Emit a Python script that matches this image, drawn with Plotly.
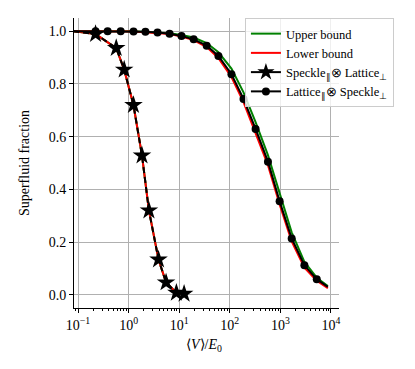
import plotly.graph_objects as go

# Speckle_par x Lattice_perp (stars)
star_x = [0.222, 0.569, 0.817, 1.247, 1.84, 2.52, 3.9, 5.5, 8.8, 12.5]
star_y = [0.989, 0.936, 0.854, 0.720, 0.528, 0.320, 0.134, 0.047, 0.008, 0.004]

# Lattice_par x Speckle_perp (circles)
circ_x = [0.222, 0.385, 0.697, 1.25, 2.15, 3.73, 6.46, 11.1, 19.3, 35.0,
          59.7, 108, 187, 324, 569, 968, 1676, 2990, 5250]
circ_y = [1.0, 1.0, 1.0, 0.999, 0.998, 0.995, 0.99, 0.982, 0.969, 0.945,
          0.906, 0.837, 0.743, 0.629, 0.505, 0.355, 0.214, 0.112, 0.059]

# curve ends (left edge / tail past last marker)
edge_x = 0.08
circ_tail_x = 8700
circ_tail_y = 0.03

# bounds for the lattice_par curve
bound_x = [0.08, 0.222, 1.25, 6.46, 11.1, 19.3, 35.0, 59.7, 108, 187, 324,
           569, 968, 1676, 2990, 5250, 8700]
upper_y = [1.0, 1.0, 1.0, 0.992, 0.986, 0.976, 0.955, 0.92, 0.858, 0.768,
           0.655, 0.53, 0.385, 0.237, 0.125, 0.065, 0.033]
lower_y = [1.0, 1.0, 0.999, 0.989, 0.98, 0.966, 0.94, 0.898, 0.826, 0.731,
           0.616, 0.492, 0.343, 0.203, 0.103, 0.053, 0.025]

tick_vals = [0.1, 1, 10, 100, 1000, 10000]
tick_text = ["10<sup>−1</sup>", "10<sup>0</sup>", "10<sup>1</sup>",
             "10<sup>2</sup>", "10<sup>3</sup>", "10<sup>4</sup>"]

GREEN = "#008000"
RED = "#ff0000"
FONT = "Liberation Serif"

fig = go.Figure()

# bounds - star curve (same as data)
sx = [edge_x] + star_x
sy = [1.0] + star_y
fig.add_trace(go.Scatter(x=sx, y=sy, mode="lines", line=dict(color=GREEN, width=2),
                         showlegend=False))
fig.add_trace(go.Scatter(x=sx, y=sy, mode="lines", line=dict(color=RED, width=2),
                         showlegend=False))

# bounds - circle curve
fig.add_trace(go.Scatter(x=bound_x, y=upper_y, mode="lines", name="Upper bound",
                         line=dict(color=GREEN, width=2)))
fig.add_trace(go.Scatter(x=bound_x, y=lower_y, mode="lines", name="Lower bound",
                         line=dict(color=RED, width=2)))

# black data curves
fig.add_trace(go.Scatter(x=sx, y=sy, mode="lines", showlegend=False,
                         line=dict(color="black", width=2, dash="6px,4px")))
fig.add_trace(go.Scatter(x=star_x, y=star_y, mode="markers", showlegend=False,
                         marker=dict(symbol="star", size=14, color="black")))
fig.add_trace(go.Scatter(x=[edge_x] + circ_x + [circ_tail_x],
                         y=[1.0] + circ_y + [circ_tail_y], mode="lines",
                         showlegend=False, line=dict(color="black", width=2)))
fig.add_trace(go.Scatter(x=circ_x, y=circ_y, mode="markers", showlegend=False,
                         marker=dict(symbol="circle", size=8, color="black")))

# legend entries
fig.add_trace(go.Scatter(x=[None], y=[None], mode="lines+markers",
                         name="Speckle<sub>∥</sub>⊗ Lattice<sub>⊥</sub>",
                         marker=dict(symbol="star", size=13, color="black"),
                         line=dict(color="black", width=2)))
fig.add_trace(go.Scatter(x=[None], y=[None], mode="lines+markers",
                         name="Lattice<sub>∥</sub>⊗ Speckle<sub>⊥</sub>",
                         marker=dict(symbol="circle", size=8, color="black"),
                         line=dict(color="black", width=2)))

fig.update_xaxes(type="log", range=[-1.08, 4.16], automargin=False,
                 tickvals=tick_vals, ticktext=tick_text,
                 showgrid=True, gridcolor="#b0b0b0", gridwidth=1,
                 showline=True, linecolor="black", linewidth=1,
                 ticks="outside", ticklen=4, tickcolor="black",
                 minor=dict(ticks="outside", ticklen=2, tickcolor="black",
                            dtick="D1", showgrid=False),
                 zeroline=False,
                 tickfont=dict(size=14, family=FONT, color="black"))
fig.update_yaxes(range=[-0.05, 1.05], automargin=False,
                 tickvals=[0, 0.2, 0.4, 0.6, 0.8, 1.0],
                 ticktext=["0.0", "0.2", "0.4", "0.6", "0.8", "1.0"],
                 showgrid=True, gridcolor="#b0b0b0", gridwidth=1,
                 showline=True, linecolor="black", linewidth=1,
                 ticks="outside", ticklen=4, tickcolor="black",
                 zeroline=False,
                 title=dict(text="Superfluid fraction",
                            font=dict(size=14, family=FONT, color="black")),
                 tickfont=dict(size=14, family=FONT, color="black"))

# x title as annotation to control its spot
fig.add_annotation(text="⟨<i>V</i>⟩/<i>E</i><sub>0</sub>", xref="paper", yref="paper",
                   x=0.49, y=-0.131, xanchor="center", yanchor="middle",
                   showarrow=False, font=dict(size=14, family=FONT, color="black"))

# page body adds an 8px offset, so the figure is 8px smaller
fig.update_layout(
    width=407, height=361,
    margin=dict(l=66, r=76, t=10, b=61),
    plot_bgcolor="white", paper_bgcolor="white",
    font=dict(family=FONT, color="black"),
    legend=dict(x=0.645, y=1.0, xanchor="left", yanchor="top",
                bgcolor="rgba(255,255,255,0.8)", bordercolor="#cccccc",
                borderwidth=1, font=dict(size=12.5, family=FONT),
                tracegroupgap=0, itemwidth=30),
)

fig.write_html("out.html")
